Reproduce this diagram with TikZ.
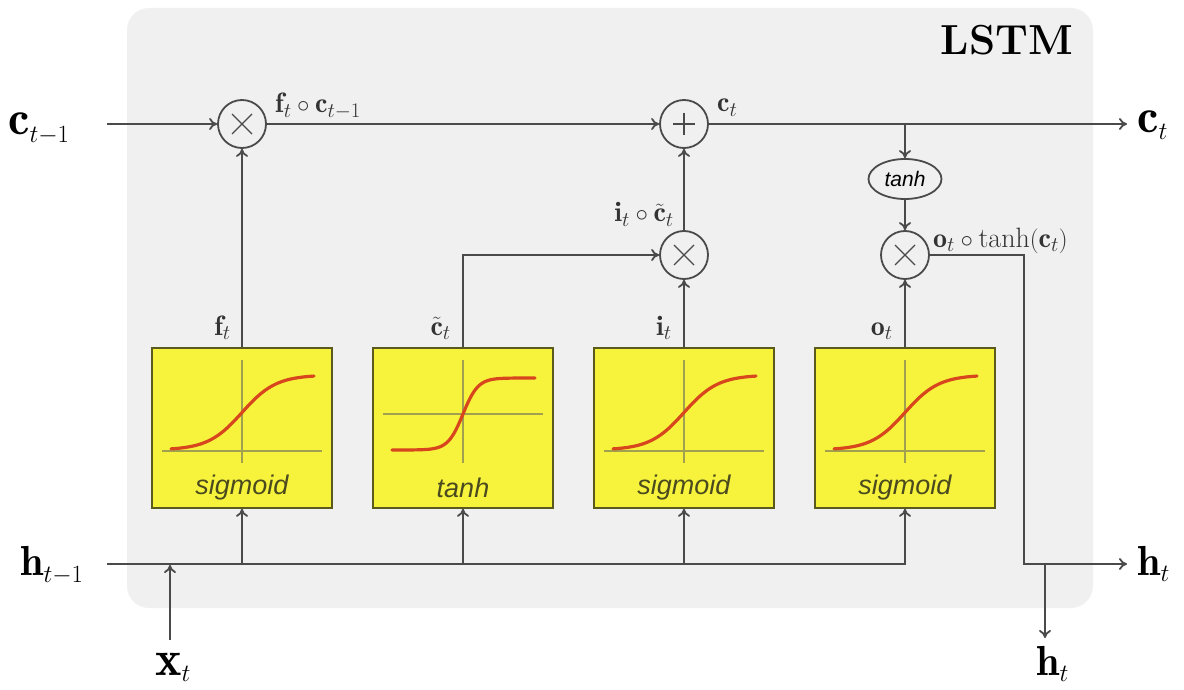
\documentclass[tikz,border=0pt]{standalone}
\usepackage{fontspec}
\usetikzlibrary{arrows.meta,shapes.geometric}
\newfontfamily\labsans{Liberation Sans}
\definecolor{bggray}{HTML}{F0F0F0}
\definecolor{linegray}{HTML}{4A4A4A}
\definecolor{gateyellow}{HTML}{F7F33C}
\definecolor{gateborder}{HTML}{5A5A1E}
\definecolor{axiscol}{HTML}{A0A050}
\definecolor{curvecol}{HTML}{D8461E}
\definecolor{gatetext}{HTML}{4A4A1E}
\definecolor{labcol}{HTML}{333333}
\tikzset{
  conn/.style={draw=linegray, line width=1.8pt},
  arr/.style={conn, -{To[length=8pt,width=12pt]}},
  opcirc/.style={circle, draw=linegray, line width=1.8pt, minimum size=48pt, inner sep=0pt},
  opmark/.style={draw=linegray, line width=1.3pt},
  gatebox/.style={rectangle, draw=gateborder, line width=1.6pt, fill=gateyellow, minimum width=180pt, minimum height=160pt, inner sep=0pt},
  axisline/.style={draw=axiscol, line width=1.2pt},
  curveline/.style={draw=curvecol, line width=3.2pt, line cap=round},
  gatelabel/.style={font=\labsans\itshape\fontsize{27}{30}\selectfont, text=gatetext},
  biglabC/.style={font=\fontsize{48}{52}\selectfont, text=black, inner sep=0pt},
  biglabH/.style={font=\fontsize{42}{46}\selectfont, text=black, inner sep=0pt},
  smalllab/.style={font=\fontsize{28}{30}\selectfont, text=labcol, inner sep=0pt},
  ellnode/.style={ellipse, draw=linegray, line width=1.8pt, minimum width=73pt, minimum height=40pt, inner sep=0pt, font=\labsans\itshape\fontsize{21}{24}\selectfont}
}
\begin{document}
\begin{tikzpicture}[x=1pt,y=-1pt]
\useasboundingbox (0,0) rectangle (1184,690);
\fill[bggray, rounded corners=22pt] (127,8) rectangle (1093,608);

\node[font=\bfseries\fontsize{42}{46}\selectfont, anchor=base, inner sep=0pt] (title) at (1007,55) {LSTM};

% operation circles
\node[opcirc] (mf) at (242,124) {};
\node[opcirc] (ma) at (684,124) {};
\node[opcirc] (mi) at (684,255) {};
\node[opcirc] (mo) at (905,255) {};
\draw[opmark] ([shift={(-10,-10)}]mf.center) -- ([shift={(10,10)}]mf.center);
\draw[opmark] ([shift={(-10,10)}]mf.center) -- ([shift={(10,-10)}]mf.center);
\draw[opmark] ([shift={(-10,-10)}]mi.center) -- ([shift={(10,10)}]mi.center);
\draw[opmark] ([shift={(-10,10)}]mi.center) -- ([shift={(10,-10)}]mi.center);
\draw[opmark] ([shift={(-10,-10)}]mo.center) -- ([shift={(10,10)}]mo.center);
\draw[opmark] ([shift={(-10,10)}]mo.center) -- ([shift={(10,-10)}]mo.center);
\draw[opmark] ([shift={(-11,0)}]ma.center) -- ([shift={(11,0)}]ma.center);
\draw[opmark] ([shift={(0,-11)}]ma.center) -- ([shift={(0,11)}]ma.center);

\node[ellnode] (th) at (905,179) {tanh};

% gate boxes
\foreach \nm/\cx in {bf/242, bc/463, bi/684, bo/905} {
  \node[gatebox] (\nm) at (\cx,428) {};
}
\foreach \cx in {242, 684, 905} {
  \begin{scope}[shift={(\cx,428)}]
    \draw[axisline] (-80,23) -- (80,23);
    \draw[axisline] (0,-68) -- (0,35);
    \draw[curveline] plot[domain=-71:72, samples=60, smooth] (\x, {22 - 75/(1+exp(-\x/17))});
    \node[gatelabel] at (0,60) {sigmoid};
  \end{scope}
}
\begin{scope}[shift={(463,428)}]
  \draw[axisline] (-80,-14) -- (80,-14);
  \draw[axisline] (0,-68) -- (0,35);
  \draw[curveline] plot[domain=-71:72, samples=80, smooth] (\x, {-14 - 36*tanh(\x/15)});
  \node[gatelabel] at (0,60) {tanh};
\end{scope}

% coordinates
\coordinate (cin) at (107,124);
\coordinate (csplit) at (905,124);
\coordinate (cout) at (1127,124);
\coordinate (hin) at (107,564);
\coordinate (hcorner) at (1024,564);
\coordinate (hsplit) at (1045,564);
\coordinate (hout) at (1127,564);
\coordinate (hdown) at (1045,638);
\coordinate (xin) at (170,640);
\coordinate (xjoin) at (170,565);

% cell state line
\draw[arr] (cin) -- (mf);
\draw[arr] (mf) -- (ma);
\draw[arr] (ma) -- (cout);
\draw[arr] (csplit) -- (th);
\draw[arr] (th) -- (mo);
\draw[arr] (mi) -- (ma);

% gates to ops
\draw[arr] (bf.north) -- (mf);
\draw[arr] (bc.north) |- (mi.west);
\draw[arr] (bi.north) -- (mi);
\draw[arr] (bo.north) -- (mo);

% output
\draw[arr] (mo.east) -| (hcorner) -- (hout);
\draw[arr] (hsplit) -- (hdown);

% h_{t-1} line and inputs
\draw[arr] (hin) -| (bo.south);
\draw[arr] (bf.south |- hin) -- (bf.south);
\draw[arr] (bc.south |- hin) -- (bc.south);
\draw[arr] (bi.south |- hin) -- (bi.south);
\draw[arr] (xin) -- (xjoin);

% big labels
\node[biglabC, anchor=base west] (lcin) at (8,135) {$\mathbf{c}_{t-1}$};
\node[biglabC, anchor=base west] (lcout) at (1137,133) {$\mathbf{c}_t$};
\node[biglabH, anchor=base west] (lhin) at (20,575) {$\mathbf{h}_{t-1}$};
\node[biglabH, anchor=base west] (lhout) at (1137,575) {$\mathbf{h}_t$};
\node[biglabH, anchor=base west] (lhdown) at (1036,675) {$\mathbf{h}_t$};
\node[font=\fontsize{50}{54}\selectfont, inner sep=0pt, anchor=base west] (lx) at (155,675) {$\mathbf{x}_t$};

% small labels
\node[smalllab, anchor=base west] at (275,113) {$\mathbf{f}_t\circ\mathbf{c}_{t-1}$};
\node[smalllab, anchor=base west] at (717,112) {$\mathbf{c}_t$};
\node[smalllab, anchor=base east] at (674,222) {$\mathbf{i}_t\circ\tilde{\mathbf{c}}_t$};
\node[smalllab, anchor=base west] at (933,247) {$\mathbf{o}_t\circ\tanh(\mathbf{c}_t)$};
\node[smalllab, anchor=base east] at (231,335) {$\mathbf{f}_t$};
\node[smalllab, anchor=base east] at (451,335) {$\tilde{\mathbf{c}}_t$};
\node[smalllab, anchor=base east] at (672,335) {$\mathbf{i}_t$};
\node[smalllab, anchor=base east] at (893,335) {$\mathbf{o}_t$};
\end{tikzpicture}
\end{document}
